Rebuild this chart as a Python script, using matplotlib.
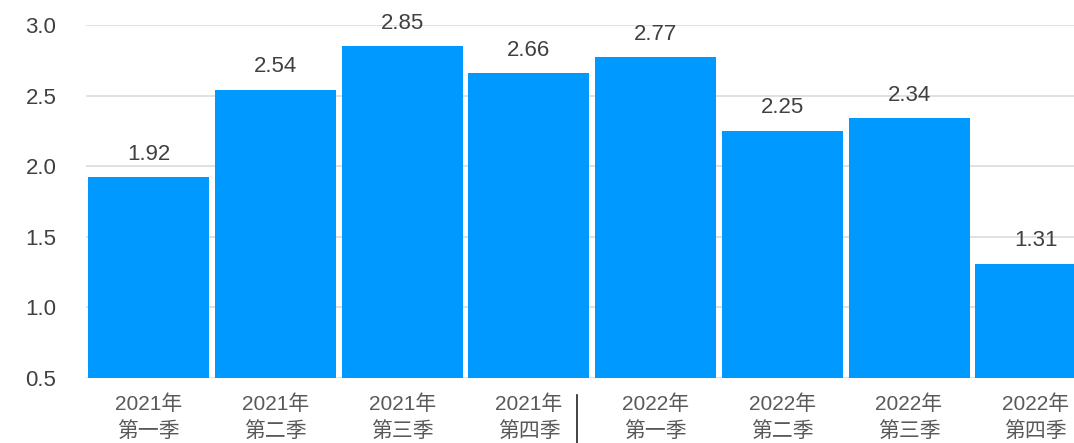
import matplotlib
matplotlib.use("Agg")
import matplotlib.pyplot as plt
from matplotlib.transforms import blended_transform_factory

plt.rcParams['font.family'] = ['Liberation Sans', 'Noto Sans CJK SC', 'DejaVu Sans']

categories = ["2021年\n第一季", "2021年\n第二季", "2021年\n第三季", "2021年\n第四季",
              "2022年\n第一季", "2022年\n第二季", "2022年\n第三季", "2022年\n第四季"]
values = [1.92, 2.54, 2.85, 2.66, 2.77, 2.25, 2.34, 1.31]
yticks = [0.5, 1.0, 1.5, 2.0, 2.5, 3.0]

W, H = 1074, 443
fig = plt.figure(figsize=(W / 100, H / 100), dpi=100)
left, right, top, bottom = 85.5, 85.5 + 8 * 126.7, 25, 378
ax = fig.add_axes([left / W, 1 - bottom / H, (right - left) / W, (bottom - top) / H])

x = list(range(len(categories)))
bars = ax.bar(x, [v - 0.5 for v in values], bottom=0.5, width=0.955, color="#0099FF", zorder=3)
ax.set_xlim(-0.5, len(categories) - 0.5)
ax.set_ylim(0.5, 3.0)
ax.set_yticks(yticks)
ax.set_yticklabels([f"{t:.1f}" for t in yticks])
ax.set_xticks(x)
ax.set_xticklabels(categories, linespacing=1.45)
ax.tick_params(axis="y", length=0, pad=21, labelsize=16, labelcolor="#404040")
ax.tick_params(axis="x", length=0, pad=12, labelsize=15, labelcolor="#595959")
for s in ax.spines.values():
    s.set_visible(False)
ax.grid(axis="y", color="#dcdcdc", linewidth=1.2, zorder=0)
ax.set_axisbelow(True)

for xi, v in zip(x, values):
    ax.annotate(f"{v:.2f}", (xi, v), xytext=(0, 9), textcoords="offset points",
                ha="center", va="bottom", fontsize=16, color="#404040", annotation_clip=False)

# separator between years in the category axis
trans = blended_transform_factory(ax.transData, fig.transFigure)
ax.plot([3.38, 3.38], [1 - 395 / H, 0], color="#222222", linewidth=1.2, transform=trans, clip_on=False)

fig.savefig("out.png", dpi=100)
